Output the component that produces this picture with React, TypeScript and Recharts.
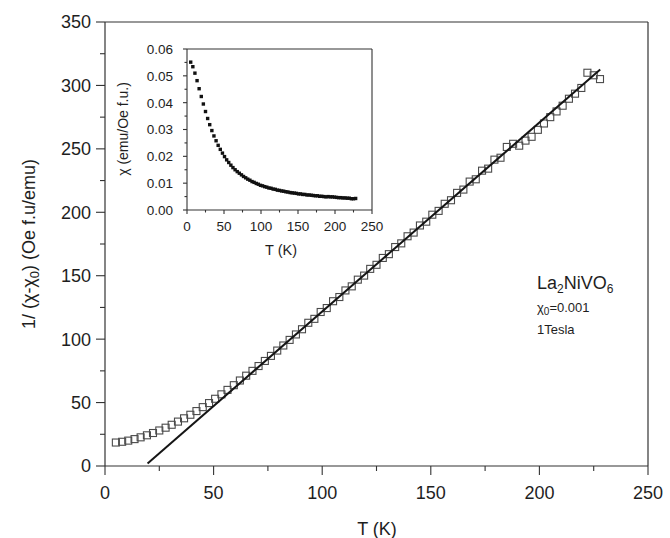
import React from 'react';
import { ScatterChart, Scatter, XAxis, YAxis, ReferenceLine } from 'recharts';

// ---- data ----
const temperatures = [
  5, 7.9, 10.7, 13.6, 16.4, 19.3, 22.1, 25, 27.9, 30.7, 33.6, 36.4, 39.3, 42.1, 45, 47.9,
  50.7, 53.6, 56.4, 59.3, 62.1, 65, 67.9, 70.7, 73.6, 76.4, 79.3, 82.1, 85, 87.9, 90.7,
  93.6, 96.4, 99.3, 102.1, 105, 107.9, 110.7, 113.6, 116.4, 119.3, 122.1, 125, 127.9,
  130.7, 133.6, 136.4, 139.3, 142.1, 145, 147.9, 150.7, 153.6, 156.4, 159.3, 162.1, 165,
  167.9, 170.7, 173.6, 176.4, 179.3, 182.1, 185, 187.9, 190.7, 193.6, 196.4, 199.3, 202.1,
  205, 207.9, 210.7, 213.6, 216.4, 219.3, 222.1, 225, 227.9,
];
const inverseChi = [
  18.5, 19.1, 20.0, 21.2, 22.6, 24.2, 26.0, 28.0, 30.2, 32.5, 35.0, 37.6, 40.4, 43.3, 46.4, 49.6,
  53.0, 56.5, 60.0, 63.7, 67.4, 71.2, 75.0, 78.8, 82.8, 86.8, 91.0, 95.0, 99.4, 103.7, 107.8,
  112.9, 116.0, 121.4, 124.5, 129.9, 133.2, 138.4, 141.6, 146.9, 150.1, 155.4, 158.6, 164.0,
  167.0, 172.6, 175.5, 181.1, 184.0, 189.6, 192.6, 198.1, 201.1, 206.7, 209.5, 215.3, 217.9,
  224.2, 226.0, 232.8, 234.4, 241.5, 243.0, 251.5, 254.0, 252.5, 256.5, 259.5, 265.0, 270.0,
  275.0, 279.5, 284.0, 289.5, 293.5, 298.0, 310.0, 308.0, 305.0,
];
const chiValues = [
  0.0551, 0.0534, 0.0510, 0.0482, 0.0452, 0.0423, 0.0395, 0.0367, 0.0341, 0.0318, 0.0296, 0.0276,
  0.0258, 0.0241, 0.0226, 0.0212, 0.0199, 0.0187, 0.0177, 0.0167, 0.0158, 0.0150, 0.0143, 0.0137,
  0.0131, 0.0125, 0.0120, 0.0115, 0.0111, 0.0106, 0.0103, 0.0099, 0.0096, 0.0092, 0.0090, 0.0087,
  0.0085, 0.0082, 0.0081, 0.0078, 0.0077, 0.0074, 0.0073, 0.0071, 0.0070, 0.0068, 0.0067, 0.0065,
  0.0064, 0.0063, 0.0062, 0.0060, 0.0060, 0.0058, 0.0058, 0.0056, 0.0056, 0.0055, 0.0054, 0.0053,
  0.0053, 0.0051, 0.0051, 0.0050, 0.0049, 0.0050, 0.0049, 0.0049, 0.0048, 0.0047, 0.0046, 0.0046,
  0.0045, 0.0045, 0.0044, 0.0044, 0.0042, 0.0042, 0.0043,
];
const fitTemperatures = [19.6, 228];
const fitInverseChi = [2, 312.5];

const mainXTicks = [0, 25, 50, 75, 100, 125, 150, 175, 200, 225, 250];
const mainYTicks = [0, 25, 50, 75, 100, 125, 150, 175, 200, 225, 250, 275, 300, 325, 350];
const insetXTicks = [0, 25, 50, 75, 100, 125, 150, 175, 200, 225, 250];
const insetYTicks = [0, 0.005, 0.01, 0.015, 0.02, 0.025, 0.03, 0.035, 0.04, 0.045, 0.05, 0.055, 0.06];

// ---- tables built from the arrays ----
const mainData = temperatures.map((T, i) => ({ T, y: inverseChi[i] }));
const fitData = fitTemperatures.map((T, i) => ({ T, y: fitInverseChi[i] }));
const insetData = temperatures.map((T, i) => ({ T, y: chiValues[i] }));

const FONT = '"Liberation Sans", Arial, Helvetica, sans-serif';
const AXIS = '#333';
const TEXT = '#1e1e1e';

type TickOpts = {
  orient: 'left' | 'bottom';
  majorLen: number;
  minorLen: number;
  isMajor: (v: number) => boolean;
  fmt: (v: number) => string;
  fontSize: number;
  gap: number;
};

const makeTick = (o: TickOpts) => (props: any) => {
  const { x, y, payload } = props;
  const v = payload.value as number;
  const major = o.isMajor(v);
  const len = major ? o.majorLen : o.minorLen;
  if (o.orient === 'left') {
    return (
      <g>
        <line x1={x - len} x2={x} y1={y} y2={y} stroke={AXIS} strokeWidth={1.1} />
        {major && (
          <text x={x - len - o.gap} y={y} dy="0.36em" textAnchor="end" fontSize={o.fontSize} fontFamily={FONT} fill={TEXT}>
            {o.fmt(v)}
          </text>
        )}
      </g>
    );
  }
  return (
    <g>
      <line x1={x} x2={x} y1={y} y2={y + len} stroke={AXIS} strokeWidth={1.1} />
      {major && (
        <text x={x} y={y + len + o.gap} textAnchor="middle" fontSize={o.fontSize} fontFamily={FONT} fill={TEXT}>
          {o.fmt(v)}
        </text>
      )}
    </g>
  );
};

const near = (a: number, b: number) => Math.abs(a - b) < 1e-6;

const mainXTick = makeTick({ orient: 'bottom', majorLen: 9, minorLen: 5, isMajor: (v) => v % 50 === 0, fmt: (v) => String(v), fontSize: 18, gap: 24 });
const mainYTick = makeTick({ orient: 'left', majorLen: 9, minorLen: 5, isMajor: (v) => v % 50 === 0, fmt: (v) => String(v), fontSize: 18, gap: 5 });
const insetXTick = makeTick({ orient: 'bottom', majorLen: 4, minorLen: 2.5, isMajor: (v) => v % 50 === 0, fmt: (v) => String(v), fontSize: 13.5, gap: 17 });
const insetYTick = makeTick({
  orient: 'left', majorLen: 4, minorLen: 2.5,
  isMajor: (v) => near(v * 100, Math.round(v * 100)),
  fmt: (v) => v.toFixed(2), fontSize: 13.5, gap: 10,
});

const OpenSquare = (props: any) => {
  const { cx, cy } = props;
  if (cx == null || cy == null) return <g />;
  return <rect x={cx - 3.5} y={cy - 3.5} width={7} height={7} fill="none" stroke="#4a4a4a" strokeWidth={1.1} />;
};

const FilledSquare = (props: any) => {
  const { cx, cy } = props;
  if (cx == null || cy == null) return <g />;
  return <rect x={cx - 1.7} y={cy - 1.7} width={3.4} height={3.4} fill="#111" />;
};

const NoShape = () => <g />;

export default function App() {
  return (
    <div style={{ position: 'absolute', left: 0, top: 0, width: 670, height: 538, background: '#fff', overflow: 'hidden' }}>
      <div style={{ position: 'absolute', left: 0, top: 0 }}>
        <ScatterChart width={670} height={538} margin={{ top: 22, right: 22, left: 0, bottom: 0 }}>
          <XAxis
            type="number" dataKey="T" domain={[0, 250]} ticks={mainXTicks} interval={0}
            height={72} tickSize={0} tickMargin={0} tickLine={false}
            axisLine={{ stroke: AXIS, strokeWidth: 1.2 }} tick={mainXTick}
          />
          <YAxis
            type="number" dataKey="y" domain={[0, 350]} ticks={mainYTicks} interval={0}
            width={105} tickSize={0} tickMargin={0} tickLine={false}
            axisLine={{ stroke: AXIS, strokeWidth: 1.2 }} tick={mainYTick}
          />
          <ReferenceLine y={350} stroke={AXIS} strokeWidth={1.2} />
          <ReferenceLine x={250} stroke={AXIS} strokeWidth={1.2} />
          <Scatter data={mainData} shape={OpenSquare} isAnimationActive={false} />
          <Scatter data={fitData} shape={NoShape} line={{ stroke: '#151515', strokeWidth: 2 }} isAnimationActive={false} />
        </ScatterChart>
      </div>

      <div style={{ position: 'absolute', left: 110, top: 30 }}>
        <ScatterChart width={280} height={240} margin={{ top: 19, right: 18, left: 0, bottom: 0 }}>
          <XAxis
            type="number" dataKey="T" domain={[0, 250]} ticks={insetXTicks} interval={0}
            height={60} tickSize={0} tickMargin={0} tickLine={false}
            axisLine={{ stroke: AXIS, strokeWidth: 1.1 }} tick={insetXTick}
          />
          <YAxis
            type="number" dataKey="y" domain={[0, 0.06]} ticks={insetYTicks} interval={0}
            width={77} tickSize={0} tickMargin={0} tickLine={false}
            axisLine={{ stroke: AXIS, strokeWidth: 1.1 }} tick={insetYTick}
          />
          <ReferenceLine y={0.06} stroke={AXIS} strokeWidth={1.1} />
          <ReferenceLine x={250} stroke={AXIS} strokeWidth={1.1} />
          <Scatter data={insetData} shape={FilledSquare} isAnimationActive={false} />
        </ScatterChart>
      </div>

      <svg width={670} height={538} style={{ position: 'absolute', left: 0, top: 0, pointerEvents: 'none' }}>
        <g fontFamily={FONT} fill={TEXT}>
          {/* main axis titles */}
          <text x={377} y={535} textAnchor="middle" fontSize={18}>T (K)</text>
          <text transform="rotate(-90)" x={-244} y={35} textAnchor="middle" fontSize={18}>
            1/ (χ-χ<tspan dy={4} fontSize={13}>0</tspan><tspan dy={-4}>) (Oe f.u/emu)</tspan>
          </text>
          {/* inset axis titles */}
          <text x={281} y={255} textAnchor="middle" fontSize={14.5}>T (K)</text>
          <text transform="rotate(-90)" x={-129} y={128} textAnchor="middle" fontSize={14}>χ (emu/Oe f.u.)</text>
          {/* annotation */}
          <text x={537} y={289} fontSize={18}>
            La<tspan dy={3.5} fontSize={12}>2</tspan><tspan dy={-3.5}>NiVO</tspan><tspan dy={3.5} fontSize={12}>6</tspan>
          </text>
          <text x={537} y={312} fontSize={13}>
            χ<tspan dy={3} fontSize={10}>0</tspan><tspan dy={-3}>=0.001</tspan>
          </text>
          <text x={537} y={334} fontSize={13}>1Tesla</text>
        </g>
      </svg>
    </div>
  );
}
